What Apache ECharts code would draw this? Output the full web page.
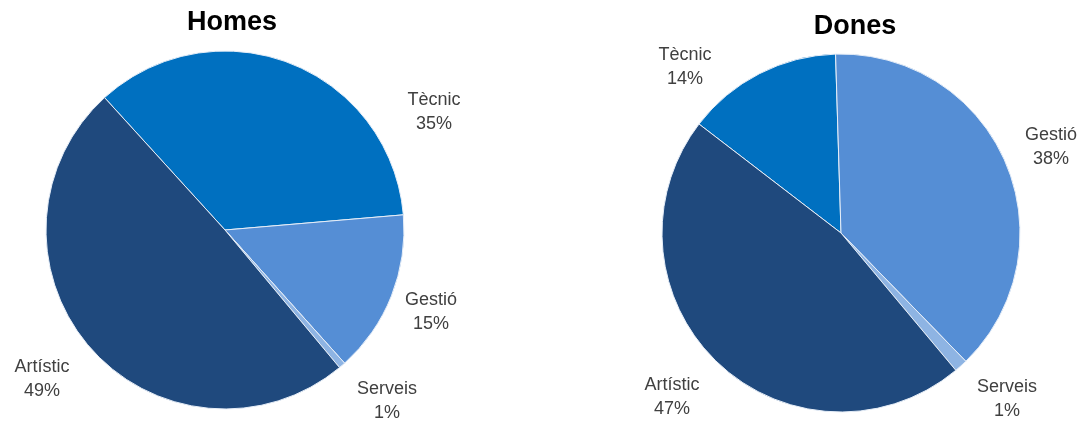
<!DOCTYPE html>
<html>
<head>
<meta charset="utf-8">
<script src="https://cdn.jsdelivr.net/npm/echarts@6/dist/echarts.min.js"></script>
<style>html,body{margin:0;padding:0;background:#fff;}#c{width:1083px;height:425px;}</style>
</head>
<body>
<div id="c"></div>
<script>
const categories = ['Tècnic', 'Gestió', 'Serveis', 'Artístic'];
const homesValues = [35.4, 14.7, 0.6, 49.3];
const donesValues = [14.1, 38.2, 1.2, 46.5];
const chartTitles = ['Homes', 'Dones'];

const colors = ['#0070C0', '#558ED5', '#8EB4E3', '#1F497D'];
const homesLabelPos = [[434, 112], [431, 312], [387, 401], [42, 379]];
const donesLabelPos = [[685, 67], [1051, 147], [1007, 399], [672, 397]];

function makeData(vals) {
  return categories.map((c, i) => ({ name: c, value: vals[i], itemStyle: { color: colors[i] } }));
}
function makeSeries(vals, center, startAngle, labelPos) {
  return {
    type: 'pie',
    center: center,
    radius: 179,
    startAngle: startAngle,
    clockwise: true,
    avoidLabelOverlap: false,
    silent: true,
    animation: false,
    itemStyle: { borderColor: '#E6EEF8', borderWidth: 1 },
    label: {
      show: true,
      position: 'outside',
      formatter: p => p.name + '\n' + Math.round(p.percent) + '%',
      fontFamily: 'Liberation Sans',
      fontSize: 18,
      lineHeight: 24,
      color: '#404040',
      align: 'center'
    },
    labelLine: { show: false },
    labelLayout: function (params) {
      const p = labelPos[params.dataIndex];
      return { x: p[0], y: p[1], align: 'center', verticalAlign: 'middle' };
    },
    data: makeData(vals)
  };
}

const chart = echarts.init(document.getElementById('c'), null, { renderer: 'canvas' });
chart.setOption({
  backgroundColor: '#ffffff',
  title: [
    { text: chartTitles[0], left: 227, top: 4, textAlign: 'center',
      textStyle: { fontFamily: 'Liberation Sans', fontWeight: 'bold', fontSize: 27, color: '#000' } },
    { text: chartTitles[1], left: 850, top: 8, textAlign: 'center',
      textStyle: { fontFamily: 'Liberation Sans', fontWeight: 'bold', fontSize: 27, color: '#000' } }
  ],
  series: [
    makeSeries(homesValues, [225, 230], 132.3, homesLabelPos),
    makeSeries(donesValues, [841, 233], 142.5, donesLabelPos)
  ]
});
</script>
</body>
</html>
